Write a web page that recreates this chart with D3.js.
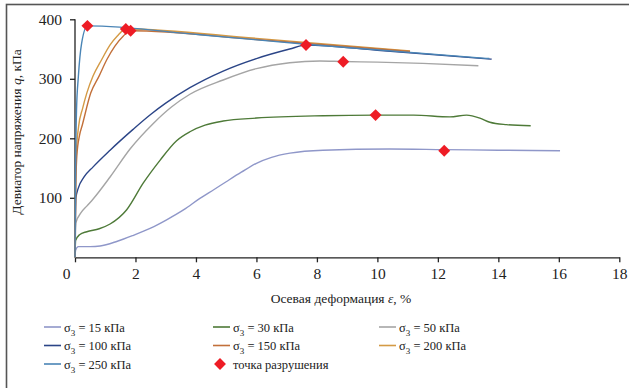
<!DOCTYPE html>
<html>
<head>
<meta charset="utf-8">
<script src="https://cdn.jsdelivr.net/npm/d3@7"></script>
<style>
  body { margin: 0; background: #fff; }
  .axis path, .axis line { stroke: #222; stroke-width: 1.3; }
</style>
</head>
<body>
<svg id="chart" width="629" height="388"></svg>
<script>
// ---- data: axial strain eps (%) vs deviator stress q (kPa)
const curve15 = [[0,0],[0.02,12],[0.11,18],[0.5,18],[0.83,19],[1.4,27],[1.93,37],[2.5,49],[3.03,63],[3.6,80],[4.13,99],[4.6,114],[5.0,127],[5.5,143],[6.0,158],[6.5,168],[7.11,175],[8.2,180],[10.4,182],[12.21,181],[14,180],[16.04,179]];
const curve30 = [[0,0],[0.02,28],[0.15,38],[0.39,43],[0.8,48],[1.16,56],[1.71,80],[2.26,125],[2.81,163],[3.36,196],[3.8,211],[4.3,222],[4.9,229],[6.0,234],[8.2,238],[9.94,239],[11.2,239],[12.4,236],[12.95,239],[13.39,234],[13.72,227],[14.27,223],[15.07,221]];
const curve50 = [[0,0],[0.03,58],[0.2,75],[0.39,86],[0.6,98],[1.16,135],[1.82,182],[2.59,225],[3.2,253],[3.8,274],[4.9,298],[6.0,317],[7.1,327],[8.1,330],[8.87,329],[10,328],[11.5,326],[13.34,322]];
const curve100 = [[0,0],[0.03,100],[0.1,115],[0.3,135],[0.6,152],[1.16,180],[1.92,215],[2.5,240],[3.0,259],[3.8,285],[4.9,313],[6.0,334],[7.1,350],[7.64,356.8],[10,348],[13.78,333]];
const curve150 = [[0,0],[0.02,100],[0.06,170],[0.15,205],[0.24,222],[0.52,276],[0.8,305],[1.05,332],[1.32,355],[1.6,372],[1.84,380.8],[6,366],[11.08,346]];
const curve200 = [[0,0],[0.02,120],[0.05,180],[0.12,220],[0.25,250],[0.39,276],[0.6,305],[0.88,332],[1.16,357],[1.4,372],[1.68,383.7],[6,368],[11.08,347]];
const curve250 = [[0,0],[0.02,150],[0.05,247],[0.11,303],[0.22,360],[0.41,389],[4.13,374],[7.64,358],[13.7,334]];
const failure = [[0.41,389],[1.68,383.7],[1.84,380.8],[7.64,356.8],[8.87,328.7],[9.94,239],[12.21,179]];

const pressures = [15, 30, 50, 100, 150, 200, 250];
const colors = ['#8f97c9', '#4e7a38', '#a5a5a5', '#2b4587', '#c2703a', '#d49a45', '#4a85b6'];
const curves = [curve15, curve30, curve50, curve100, curve200, curve150, curve250];
const curveColors = [colors[0], colors[1], colors[2], colors[3], colors[5], colors[4], colors[6]];
const xTicks = [0, 2, 4, 6, 8, 10, 12, 14, 16, 18];
const yTicks = [100, 200, 300, 400];

const serif = '"Liberation Serif", "DejaVu Serif", "Times New Roman", serif';

const svg = d3.select('#chart');
const margin = {left: 75, top: 19.3};
const width = 619.3 - margin.left;
const height = 257.3 - margin.top;

// outer frame (only left and top edges fall inside the picture)
svg.append('rect')
  .attr('x', 6.5).attr('y', 4.5).attr('width', 700).attr('height', 500)
  .attr('fill', 'none').attr('stroke', '#555').attr('stroke-width', 1.6);

const g = svg.append('g').attr('transform', `translate(${margin.left},${margin.top})`);

const x = d3.scaleLinear().domain([0, 18]).range([0, width]);
const y = d3.scaleLinear().domain([0, 400]).range([height, 0]);

// AXES
const xAxis = g.append('g').attr('class', 'axis').attr('transform', `translate(0,${height})`)
  .call(d3.axisBottom(x).tickValues(xTicks).tickSize(5).tickSizeOuter(0).tickPadding(6));
xAxis.selectAll('.tick').filter(d => d === 0).select('text').attr('dx', -9);

const yAxis = g.append('g').attr('class', 'axis')
  .call(d3.axisLeft(y).tickValues(yTicks).tickSize(5).tickSizeOuter(0).tickPadding(8));
yAxis.select('.domain').attr('d', `M0,${height}V0`);

g.selectAll('.axis').attr('font-family', serif).attr('font-size', 15.5);
g.selectAll('.axis text').attr('fill', '#222');

// LINES
const line = d3.line().x(d => x(d[0])).y(d => y(d[1])).curve(d3.curveMonotoneX);
g.selectAll('path.series').data(curves).enter()
  .append('path').attr('class', 'series')
  .attr('d', line)
  .attr('fill', 'none')
  .attr('stroke', (d, i) => curveColors[i])
  .attr('stroke-width', 1.4);

// failure points
const diamond = d3.symbol().type(d3.symbolDiamond2).size(90);
g.selectAll('path.fail').data(failure).enter()
  .append('path').attr('class', 'fail')
  .attr('transform', d => `translate(${x(d[0])},${y(d[1])})`)
  .attr('d', diamond)
  .attr('fill', '#ee1c25');

// AXIS TITLES
const xTitle = svg.append('text')
  .attr('x', 341).attr('y', 303).attr('text-anchor', 'middle')
  .attr('font-family', serif).attr('font-size', 13.5).attr('fill', '#222');
xTitle.append('tspan').text('Осевая деформация ');
xTitle.append('tspan').attr('font-style', 'italic').text('ε');
xTitle.append('tspan').text(', %');

const yTitle = svg.append('text')
  .attr('transform', 'translate(21,132) rotate(-90)').attr('text-anchor', 'middle')
  .attr('font-family', serif).attr('font-size', 13.5).attr('fill', '#222');
yTitle.append('tspan').text('Девиатор напряжения ');
yTitle.append('tspan').attr('font-style', 'italic').text('q');
yTitle.append('tspan').text(', кПа');

// LEGEND
const colX = [44, 213, 379];
const rowY = [327, 345.5, 364];
const legend = svg.append('g').attr('font-family', serif).attr('font-size', 12.5);
pressures.forEach((p, i) => {
  const lx = colX[i % 3], ly = rowY[Math.floor(i / 3)];
  const item = legend.append('g').attr('transform', `translate(${lx},${ly})`);
  item.append('line').attr('x1', 0).attr('x2', 17).attr('y1', 0).attr('y2', 0)
    .attr('stroke', colors[i]).attr('stroke-width', 1.6);
  const t = item.append('text').attr('x', 20).attr('y', 4.5).attr('fill', '#222');
  t.append('tspan').text('σ');
  t.append('tspan').attr('dy', 4).attr('font-size', 9).text('3');
  t.append('tspan').attr('dy', -4).text(` = ${p} кПа`);
});
const failItem = legend.append('g').attr('transform', `translate(${colX[1]},${rowY[2]})`);
failItem.append('path').attr('d', diamond).attr('transform', 'translate(7,0)').attr('fill', '#ee1c25');
failItem.append('text').attr('x', 20).attr('y', 4.5).attr('fill', '#222').text('точка разрушения');
</script>
</body>
</html>
